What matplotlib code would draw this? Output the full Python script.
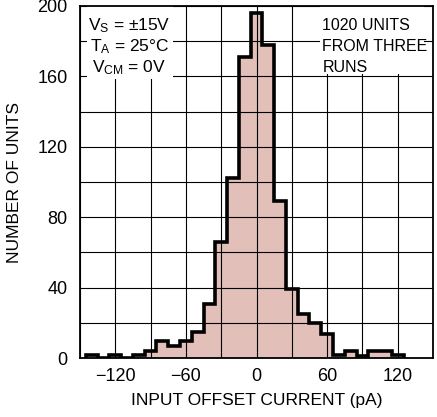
import matplotlib.pyplot as plt
import numpy as np
from matplotlib.patches import Rectangle

# Histogram (bin edges in pA, counts per bin)
bin_edges = [-145, -135, -125, -115, -105, -95, -85, -75, -65, -55, -45,
             -35, -25, -15, -5, 5, 15, 25, 35, 45, 55, 65, 75, 85, 95,
             105, 115, 125]
counts = [2, 0, 2, 0, 2, 4, 10, 7, 10, 15, 31, 66, 102, 171, 196, 178,
          89, 39, 25, 20, 14, 2, 4, 1, 4, 4, 2]

x_ticks = [-120, -60, 0, 60, 120]
y_ticks = [0, 40, 80, 120, 160, 200]

left_txt = ["V$_S$ = \u00b115V", "T$_A$ = 25\u00b0C", "V$_{CM}$ = 0V"]
right_txt = ["1020 UNITS", "FROM THREE", "RUNS"]

plt.rcParams["font.family"] = ["Liberation Sans Narrow", "Liberation Sans", "DejaVu Sans"]
plt.rcParams["mathtext.default"] = "regular"

fig = plt.figure(figsize=(4.37, 4.17), dpi=100)
ax = fig.add_axes([0.183, 0.141, 0.808, 0.845])

edges = np.array(bin_edges)
vals = np.array(counts)

# filled histogram, grid over it, then the thick outline on top
ax.stairs(vals, edges, fill=True, color="#e3bfb9", zorder=1, linewidth=0)
ax.stairs(vals, edges, fill=False, color="black", linewidth=2.6, zorder=3)

ax.set_xlim(-150, 150)
ax.set_ylim(0, 200)
ax.set_xticks(x_ticks)
ax.set_xticks(np.arange(-150, 151, 30), minor=True)
ax.set_yticks(y_ticks)
ax.set_yticks(np.arange(0, 201, 20), minor=True)
ax.set_xticklabels([f"{t}".replace("-", "\u2212") for t in x_ticks])
ax.set_axisbelow(False)
ax.grid(True, which="both", color="black", linewidth=0.8, zorder=2)
ax.tick_params(which="both", length=0, labelsize=13)
ax.tick_params(axis="x", pad=7)
ax.tick_params(axis="y", pad=9)
for s in ax.spines.values():
    s.set_linewidth(1.3)
    s.set_zorder(4)

ax.set_xlabel("INPUT OFFSET CURRENT (pA)", fontsize=12.5, labelpad=6)
ax.set_ylabel("NUMBER OF UNITS", fontsize=12.5, labelpad=11)

# white patches behind the notes so the grid breaks around them
ax.add_patch(Rectangle((-144, 158.5), 73, 42, facecolor="white",
                       edgecolor="none", zorder=2.6))
ax.add_patch(Rectangle((54, 161.5), 88, 39, facecolor="white",
                       edgecolor="none", zorder=2.6))

for i, t in enumerate(left_txt):
    ax.text(-108, 189 - i * 12, t, ha="center", va="center", fontsize=12.5,
            zorder=5)

for i, t in enumerate(right_txt):
    ax.text(56, 189 - i * 12, t, ha="left", va="center", fontsize=11.5,
            zorder=5)

fig.savefig("out.png", dpi=100)
